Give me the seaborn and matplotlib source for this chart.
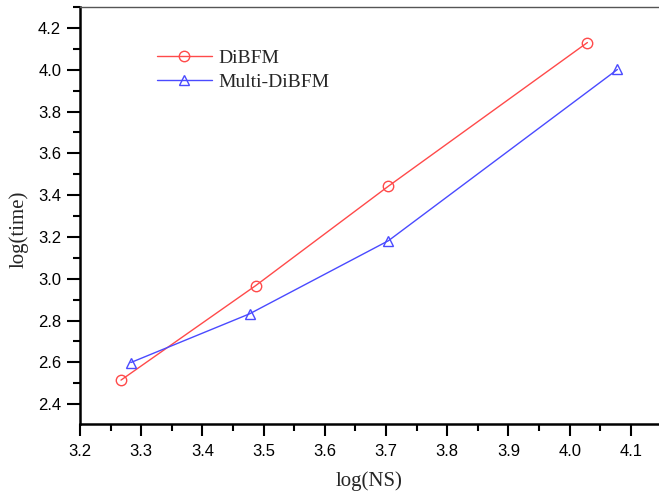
import matplotlib
matplotlib.use("Agg")
import matplotlib.pyplot as plt
from matplotlib.ticker import MultipleLocator
import seaborn as sns
import pandas as pd

# Timing measurements (log scale)
dibfm_ns = [3.267, 3.487, 3.704, 4.029]
dibfm_time = [2.515, 2.967, 3.443, 4.130]
multi_ns = [3.283, 3.477, 3.704, 4.078]
multi_time = [2.599, 2.832, 3.182, 4.001]
series_names = ["DiBFM", "Multi-DiBFM"]
x_ticks = [3.2, 3.3, 3.4, 3.5, 3.6, 3.7, 3.8, 3.9, 4.0, 4.1]
y_ticks = [2.4, 2.6, 2.8, 3.0, 3.2, 3.4, 3.6, 3.8, 4.0, 4.2]

df = pd.concat([
    pd.DataFrame({"ns": dibfm_ns, "time": dibfm_time, "method": series_names[0]}),
    pd.DataFrame({"ns": multi_ns, "time": multi_time, "method": series_names[1]}),
])

sns.set_style("white")
plt.rcParams["font.family"] = ["Liberation Sans", "DejaVu Sans"]

fig = plt.figure(figsize=(6.59, 4.93), dpi=100)
ax = fig.add_axes([80 / 659, 1 - 424 / 493, 1 - 80 / 659, (424 - 7) / 493])

palette = {"DiBFM": "#ff4a4a", "Multi-DiBFM": "#4a4aff"}
markers = {"DiBFM": "o", "Multi-DiBFM": "^"}
sns.lineplot(data=df, x="ns", y="time", hue="method", style="method",
             palette=palette, markers=markers, dashes=False, sort=False,
             markersize=7.5, markerfacecolor="none", markeredgewidth=1.0,
             linewidth=1.0, ax=ax, legend=False)

# Open markers need their edge colours set after plotting
for line, name in zip(ax.lines, series_names):
    line.set_markeredgecolor(palette[name])
    line.set_markerfacecolor("none")
    line.set_label(name)

ax.set_xlim(3.2, 4.146)
ax.set_ylim(2.305, 4.3)
ax.set_xticks(x_ticks)
ax.set_xticklabels([f"{v:.1f}" for v in x_ticks])
ax.set_yticks(y_ticks)
ax.set_yticklabels([f"{v:.1f}" for v in y_ticks])
ax.xaxis.set_minor_locator(MultipleLocator(0.05))
ax.yaxis.set_minor_locator(MultipleLocator(0.1))

ax.tick_params(which="both", direction="out", width=1.5, colors="black",
               bottom=True, left=True)
ax.tick_params(axis="x", which="major", length=8.5, labelsize=12, pad=6)
ax.tick_params(axis="x", which="minor", length=5)
ax.tick_params(axis="y", which="major", length=9.5, labelsize=12, pad=4)
ax.tick_params(axis="y", which="minor", length=5)

for side in ["left", "bottom"]:
    ax.spines[side].set_linewidth(1.8)
    ax.spines[side].set_color("black")
ax.spines["top"].set_linewidth(1.0)
ax.spines["top"].set_color("#555555")
ax.spines["right"].set_visible(False)

serif = ["Liberation Serif", "DejaVu Serif"]
ax.set_xlabel("log(NS)", fontsize=15, family=serif, labelpad=9)
ax.set_ylabel("log(time)", fontsize=15, family=serif)
ax.yaxis.set_label_coords(-0.088, 0.468)

ax.legend(loc="upper left", bbox_to_anchor=(0.103, 0.94), frameon=False,
          prop={"family": serif, "size": 14}, handlelength=2.8,
          handletextpad=0.35, labelspacing=0.32)

fig.savefig("out.png", dpi=100)
